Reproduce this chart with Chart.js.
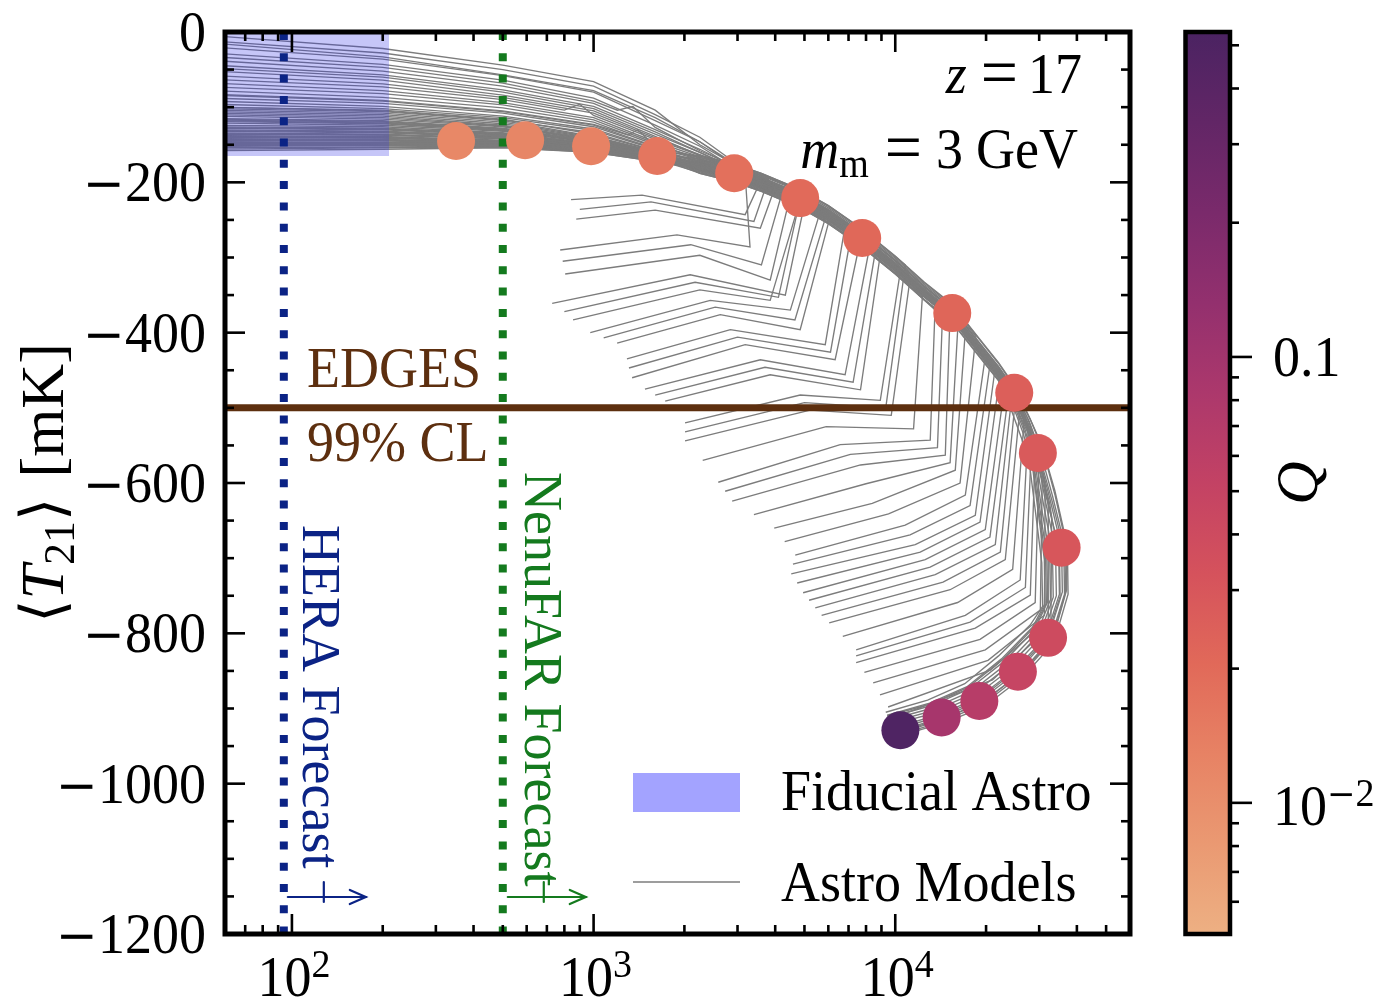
<!DOCTYPE html>
<html>
<head>
<meta charset="utf-8">
<title>Global 21-cm signal vs astro models</title>
<script src="https://cdn.jsdelivr.net/npm/chart.js@4.4.1/dist/chart.umd.min.js"></script>
<style>
  html, body { margin: 0; padding: 0; background: #fff; }
  #wrap { width: 1380px; height: 999px; position: relative; }
</style>
</head>
<body>
<div id="wrap"><canvas id="t21Chart"></canvas></div>
<script>
// ---------------- data ----------------

// fiducial model: Q of each point and its position
const qValues = [0.0115, 0.012, 0.013, 0.016, 0.018, 0.02, 0.021, 0.022, 0.025, 0.028, 0.03, 0.04, 0.048, 0.067, 0.092, 0.49];
const circleX = [350, 593, 981, 1625, 2925, 4840, 7770, 15450, 24800, 29700, 35600, 32100, 25500, 19000, 14250, 10400];
const circleY = [-145, -144, -152, -165, -188, -221, -274, -374, -480, -560, -686, -806, -851, -890, -912, -929];

// scanned astro models, [x, T21] pairs in the order of increasing Q
const astroModels = [
  [[55,-12],[200,-28],[500,-50],[1000,-72],[1600,-110],[2250,-140],[2900,-172],[3600,-196],[3180,-243],[1448,-217],[842,-223]],
  [[55,-104],[200,-108],[500,-120],[1000,-140],[1600,-160],[2250,-172],[2900,-184],[4000,-206],[3570,-261],[1600,-237],[876,-249]],
  [[55,-28],[200,-43],[500,-64],[1000,-88],[1600,-124],[2250,-152],[3180,-190],[3300,-286],[1890,-270],[775,-290]],
  [[55,-130],[200,-132],[500,-138],[1000,-150],[1600,-165],[2250,-177],[2900,-189],[3600,-202],[4490,-217],[3850,-330],[2250,-297],[805,-322]],
  [[55,-48],[200,-60],[500,-80],[1000,-102],[1600,-136],[2250,-160],[2900,-180],[3600,-198],[5030,-224],[4320,-350],[2090,-323],[729,-361]],
  [[55,-115],[200,-118],[500,-128],[1000,-145],[1600,-162],[2250,-175],[2900,-186],[3600,-201],[4840,-223],[3850,-357],[2250,-343],[855,-383]],
  [[55,-140],[200,-141],[500,-145],[1000,-154],[1600,-168],[2250,-179],[2900,-190],[3600,-203],[4800,-224],[5640,-239],[4490,-370],[2435,-357],[975,-400]],
  [[55,-68],[200,-78],[500,-94],[1000,-114],[1600,-146],[2250,-166],[2900,-182],[3600,-197],[4800,-218],[6090,-245],[4840,-396],[2630,-376],[1197,-414]],
  [[55,-124],[200,-126],[500,-134],[1000,-148],[1600,-164],[2250,-176],[2900,-188],[3600,-201],[4800,-222],[6820,-258],[5860,-416],[2840,-396],[1290,-435]],
  [[55,-148],[200,-148],[500,-149],[1000,-157],[1600,-170],[2250,-180],[2900,-191],[3600,-204],[4800,-226],[6000,-247],[7670,-276],[6320,-436],[3180,-416],[1342,-460]],
  [[55,-88],[200,-95],[500,-108],[1000,-126],[1600,-153],[2250,-170],[2900,-184],[3600,-198],[4800,-219],[6000,-241],[8260,-282],[6820,-456],[3570,-436],[1480,-475]],
  [[55,-134],[200,-136],[500,-141],[1000,-152],[1600,-166],[2250,-178],[2900,-189],[3600,-202],[4800,-223],[6000,-245],[8920,-296],[7670,-476],[3850,-456],[1727,-491]],
  [[55,-152],[200,-151],[500,-151],[1000,-158],[1600,-171],[2250,-181],[2900,-192],[3600,-205],[4800,-227],[6000,-249],[7700,-278],[10400,-318],[8920,-490],[4840,-483],[2010,-520]],
  [[55,-108],[200,-112],[500,-124],[1000,-142],[1600,-161],[2250,-174],[2900,-186],[3600,-200],[4800,-221],[6000,-243],[7700,-273],[11200,-328],[9700,-510],[5220,-503],[2010,-544]],
  [[55,-144],[200,-145],[500,-147],[1000,-156],[1600,-169],[2250,-179],[2900,-190],[3600,-203],[4800,-225],[6000,-247],[7700,-277],[10000,-313],[13570,-360],[13060,-543],[6570,-549],[2590,-599]],
  [[55,-20],[200,-36],[500,-58],[1000,-80],[1600,-118],[2250,-146],[2900,-174],[3600,-194],[4800,-218],[6000,-240],[7700,-271],[10000,-308],[15200,-372],[14650,-563],[7670,-576],[2880,-624]],
  [[55,-126],[200,-128],[500,-135],[1000,-149],[1600,-164],[2250,-176],[2900,-188],[3600,-201],[4800,-222],[6000,-244],[7700,-274],[10000,-311],[12500,-346],[17070,-398],[15810,-583],[8390,-627],[3970,-660]],
  [[55,-156],[200,-154],[500,-153],[1000,-160],[1600,-172],[2250,-182],[2900,-193],[3600,-206],[4800,-228],[6000,-250],[7700,-280],[10000,-316],[12500,-350],[15400,-380],[19880,-432],[17070,-616],[10790,-656],[4660,-696]],
  [[55,-38],[200,-52],[500,-72],[1000,-95],[1600,-130],[2250,-156],[2900,-178],[3600,-196],[4800,-219],[6000,-241],[7700,-271],[10000,-308],[12500,-343],[15400,-372],[21460,-446],[18420,-643],[11650,-682],[4520,-721]],
  [[55,-136],[200,-137],[500,-142],[1000,-153],[1600,-167],[2250,-178],[2900,-189],[3600,-202],[4800,-223],[6000,-245],[7700,-275],[10000,-312],[12500,-347],[15400,-376],[19000,-422],[23160,-465],[19880,-662],[12570,-702],[4950,-746]],
  [[55,-118],[200,-121],[500,-130],[1000,-146],[1600,-163],[2250,-175],[2900,-187],[3600,-200],[4800,-221],[6000,-243],[7700,-273],[10000,-310],[12500,-345],[15400,-374],[19000,-420],[24450,-478],[21460,-682],[13570,-722],[5430,-766]],
  [[55,-150],[200,-150],[500,-150],[1000,-158],[1600,-170],[2250,-181],[2900,-192],[3600,-205],[4800,-226],[6000,-249],[7700,-279],[10000,-315],[12500,-349],[15400,-378],[19000,-424],[22000,-456],[25950,-497],[23160,-702],[15200,-742],[6040,-786]],
  [[55,-58],[200,-69],[500,-87],[1000,-108],[1600,-141],[2250,-163],[2900,-181],[3600,-197],[4800,-219],[6000,-241],[7700,-271],[10000,-308],[12500,-343],[15400,-372],[19000,-418],[22000,-450],[27630,-523],[25950,-729],[17070,-776],[7420,-822]],
  [[55,-128],[200,-130],[500,-137],[1000,-150],[1600,-165],[2250,-177],[2900,-188],[3600,-201],[4800,-222],[6000,-244],[7700,-274],[10000,-311],[12500,-346],[15400,-375],[19000,-421],[22000,-453],[24800,-483],[29130,-553],[28030,-749],[18420,-793],[7420,-839]],
  [[55,-142],[200,-143],[500,-146],[1000,-155],[1600,-168],[2250,-179],[2900,-190],[3600,-203],[4800,-224],[6000,-246],[7700,-276],[10000,-313],[12500,-348],[15400,-377],[19000,-423],[22000,-455],[24800,-485],[27500,-525],[30700,-596],[30260,-769],[19880,-822],[8450,-866]],
  [[55,-78],[200,-87],[500,-101],[1000,-120],[1600,-150],[2250,-168],[2900,-183],[3600,-198],[4800,-220],[6000,-242],[7700,-272],[10000,-309],[12500,-344],[15400,-373],[19000,-419],[22000,-451],[24800,-481],[27500,-521],[29700,-560],[32150,-625],[32150,-782],[20660,-849],[9470,-898]],
  [[55,-15],[200,-33],[500,-57],[1000,-78],[1600,-114],[2250,-146],[2900,-176],[3800,-196],[3400,-252],[1550,-226],[900,-236]],
  [[55,-102],[200,-106],[500,-118],[1000,-139],[1600,-159],[2250,-182],[2900,-193],[3600,-206],[4200,-216],[3600,-310],[2100,-283],[790,-305]],
  [[55,-33],[200,-47],[500,-68],[1000,-92],[1200,-104],[1350,-99],[1600,-127],[2250,-158],[2900,-177],[3600,-190],[4900,-212],[4100,-353],[2170,-333],[800,-372]],
  [[55,-110],[200,-114],[500,-125],[1000,-143],[1600,-161],[2250,-185],[2900,-196],[3600,-209],[4800,-230],[5850,-249],[4650,-383],[2530,-366],[1080,-407]],
  [[55,-52],[200,-64],[500,-84],[1000,-105],[1600,-139],[2250,-164],[2900,-183],[3600,-196],[4800,-217],[6000,-239],[7200,-261],[6100,-426],[3000,-406],[1310,-447]],
  [[55,-119],[200,-122],[500,-131],[1000,-146],[1600,-163],[2250,-179],[2900,-190],[3600,-203],[4800,-224],[6000,-246],[7700,-276],[8600,-291],[7250,-466],[3700,-446],[1600,-483]],
  [[55,-63],[200,-73],[500,-90],[800,-104],[900,-96],[1000,-111],[1600,-143],[2250,-164],[2900,-175],[3600,-188],[4800,-209],[6000,-231],[7700,-261],[10800,-310],[9300,-500],[5000,-493],[2010,-532]],
  [[55,-127],[200,-129],[500,-136],[1000,-149],[1600,-165],[2250,-186],[2900,-197],[3600,-210],[4800,-231],[6000,-253],[7700,-283],[10000,-320],[12300,-352],[11500,-528],[5900,-525],[2300,-570]],
  [[55,-73],[200,-82],[500,-97],[1000,-117],[1600,-148],[2250,-170],[2900,-181],[3600,-194],[4800,-215],[6000,-237],[7700,-267],[10000,-304],[12500,-339],[14400,-359],[13800,-553],[7100,-562],[2730,-611]],
  [[55,-131],[200,-133],[500,-139],[1000,-151],[1600,-166],[2250,-188],[2900,-199],[3600,-212],[4800,-233],[6000,-255],[7700,-285],[10000,-322],[12500,-357],[16100,-397],[15200,-573],[8000,-601],[3400,-642]],
  [[55,-83],[200,-91],[500,-105],[1000,-123],[1300,-137],[1400,-130],[1600,-152],[2250,-167],[2900,-178],[3600,-191],[4800,-212],[6000,-234],[7700,-264],[10000,-301],[12500,-336],[15400,-365],[18500,-405],[16400,-600],[9500,-641],[4300,-678]],
  [[55,-135],[200,-137],[500,-142],[1000,-153],[1600,-167],[2250,-181],[2900,-192],[3600,-205],[4800,-226],[6000,-248],[7700,-278],[10000,-315],[12500,-350],[15400,-379],[20600,-443],[17700,-630],[11200,-669],[4580,-708]],
  [[55,-92],[200,-99],[500,-112],[1000,-129],[1600,-155],[2250,-174],[2900,-185],[3600,-198],[4800,-219],[6000,-241],[7700,-271],[10000,-308],[12500,-343],[15400,-372],[19000,-418],[22300,-453],[19100,-652],[12100,-692],[4730,-733]],
  [[55,-139],[200,-140],[500,-145],[1000,-154],[1600,-168],[2250,-184],[2900,-195],[3600,-208],[4800,-229],[6000,-251],[7700,-281],[10000,-318],[12500,-353],[15400,-382],[19000,-428],[23800,-478],[20600,-672],[13050,-712],[5180,-756]],
  [[55,-100],[200,-105],[500,-117],[1000,-134],[1600,-158],[2250,-165],[2900,-176],[3600,-189],[4800,-210],[6000,-232],[7700,-262],[10000,-299],[12500,-334],[15400,-363],[19000,-409],[22000,-441],[25200,-476],[22300,-692],[14400,-732],[5700,-776]],
  [[55,-143],[200,-144],[500,-146],[1000,-155],[1600,-169],[2250,-178],[2900,-189],[3600,-202],[4800,-223],[6000,-245],[7700,-275],[10000,-312],[12500,-347],[15400,-376],[19000,-422],[22000,-454],[24800,-484],[26800,-512],[24500,-715],[16100,-759],[6700,-804]],
  [[55,-106],[200,-110],[500,-122],[1000,-141],[1600,-160],[2250,-171],[2900,-182],[3600,-195],[4800,-216],[6000,-238],[7700,-268],[10000,-305],[12500,-340],[15400,-369],[19000,-415],[22000,-447],[24800,-477],[28400,-533],[27000,-739],[17700,-785],[7420,-830]],
  [[55,-147],[200,-147],[500,-148],[1000,-156],[1600,-169],[2250,-187],[2900,-198],[3600,-211],[4800,-232],[6000,-254],[7700,-284],[10000,-321],[12500,-356],[15400,-385],[19000,-431],[22000,-463],[24800,-493],[27500,-533],[29900,-586],[29100,-759],[19100,-808],[7900,-852]],
  [[55,-116],[200,-119],[500,-129],[1000,-145],[1600,-162],[2250,-169],[2900,-180],[3600,-193],[4800,-214],[6000,-236],[7700,-266],[10000,-303],[12500,-338],[15400,-367],[19000,-413],[22000,-445],[24800,-475],[27500,-515],[29700,-553],[31400,-603],[31200,-776],[20300,-836],[8900,-882]],
  [[55,-151],[200,-150],[500,-150],[1000,-157],[1600,-170],[2250,-183],[2900,-194],[3600,-207],[4800,-228],[6000,-250],[7700,-280],[10000,-317],[12500,-352],[15400,-381],[19000,-427],[22000,-459],[24800,-489],[27500,-529],[29700,-567],[32500,-627],[33000,-645],[32800,-790],[21000,-862],[9900,-912]],
  [[55,-96],[200,-102],[500,-114],[1000,-131],[1600,-156],[2250,-172],[2900,-185],[3600,-199],[4800,-220],[6000,-242],[7700,-272],[10000,-309],[12500,-344],[15400,-373],[19000,-419],[22000,-451],[24800,-481],[27500,-521],[29700,-560],[32500,-620],[35600,-686],[35800,-745],[32100,-806],[25500,-851],[19000,-890],[14250,-912],[10400,-929]],
  [[55,-112],[200,-116],[500,-126],[1000,-144],[1600,-162],[2250,-175],[2900,-186],[3600,-200],[4800,-221],[6000,-243],[7700,-273],[10000,-310],[12500,-345],[15400,-374],[19000,-420],[22000,-452],[24800,-482],[27500,-522],[29700,-562],[32000,-622],[34800,-688],[35000,-748],[31500,-805],[25000,-848],[18800,-886],[14000,-908],[10000,-925]],
  [[55,-121],[200,-124],[500,-132],[1000,-147],[1600,-163],[2250,-176],[2900,-187],[3600,-201],[4800,-222],[6000,-244],[7700,-274],[10000,-311],[12500,-346],[15400,-375],[19000,-421],[22000,-453],[24800,-483],[27500,-523],[29500,-565],[31500,-625],[34000,-690],[34200,-750],[30800,-803],[24500,-845],[18500,-883],[13800,-905],[9800,-921]],
  [[55,-132],[200,-134],[500,-140],[1000,-151],[1600,-166],[2250,-177],[2900,-189],[3600,-202],[4800,-223],[6000,-245],[7700,-275],[10000,-312],[12500,-347],[15400,-376],[19000,-422],[22000,-454],[24800,-484],[27500,-524],[30000,-563],[33000,-622],[36200,-687],[36400,-748],[32700,-808],[26000,-853],[19300,-892],[14500,-914],[10600,-931]],
  [[55,-138],[200,-139],[500,-144],[1000,-153],[1600,-167],[2250,-178],[2900,-190],[3600,-203],[4800,-224],[6000,-246],[7700,-276],[10000,-313],[12500,-348],[15400,-377],[19000,-423],[22000,-455],[24800,-485],[27500,-525],[29200,-568],[31000,-628],[33200,-692],[33400,-752],[30200,-800],[24000,-842],[18200,-880],[13600,-902],[9700,-918]],
  [[55,-146],[200,-147],[500,-148],[1000,-156],[1600,-169],[2250,-179],[2900,-191],[3600,-204],[4800,-225],[6000,-247],[7700,-277],[10000,-314],[12500,-349],[15400,-378],[19000,-424],[22000,-456],[24800,-486],[27500,-526],[29000,-570],[30500,-632],[32500,-695],[32700,-755],[29600,-798],[23500,-840],[17900,-877],[13400,-899],[9600,-915]],
  [[55,-154],[200,-153],[500,-152],[1000,-159],[1600,-171],[2250,-181],[2900,-192],[3600,-205],[4800,-227],[6000,-249],[7700,-279],[10000,-316],[12500,-351],[15400,-380],[19000,-426],[22000,-458],[24600,-490],[27000,-530],[28800,-574],[30200,-636],[31800,-698],[32000,-758],[29000,-795],[23000,-837],[17600,-874],[13200,-896],[9500,-912]],
  [[55,-158],[200,-156],[500,-154],[1000,-160],[1600,-172],[2250,-182],[2900,-193],[3600,-206],[4800,-228],[6000,-250],[7700,-280],[10000,-317],[12500,-352],[15400,-381],[19000,-427],[22000,-459],[24400,-494],[26600,-535],[28500,-578],[29800,-640],[31200,-702],[31400,-760],[28500,-792],[22500,-834],[17300,-871],[13000,-893],[9400,-909]],
  [[55,-5],[200,-22],[500,-44],[1000,-66],[1600,-104],[2250,-150],[2900,-175],[3600,-188],[4800,-209],[6000,-231],[7700,-261],[10000,-298],[12500,-333],[15400,-362],[19000,-408],[22000,-440],[24800,-470],[27500,-508],[30500,-548],[33800,-610],[37200,-684],[37400,-748],[33600,-812],[26500,-858],[19800,-897],[14800,-918],[10800,-934]],
  [[55,-100],[200,-104],[500,-116],[1000,-136],[1600,-158],[2250,-188],[2900,-199],[3600,-212],[4800,-233],[6000,-255],[7700,-285],[10000,-322],[12500,-357],[15400,-386],[19000,-432],[22000,-464],[24000,-498],[26200,-540],[28000,-582],[29300,-645],[30600,-706],[30800,-764],[28000,-789],[22000,-830],[17000,-867],[12800,-889],[9300,-905]],
  [[55,-44],[200,-57],[500,-77],[1000,-99],[1600,-133],[2250,-160],[2900,-181],[3600,-194],[4800,-215],[6000,-237],[7700,-267],[10000,-304],[12500,-339],[15400,-368],[19000,-414],[22000,-446],[24800,-476],[28000,-515],[30800,-555],[33900,-617],[36900,-683],[37000,-742],[33200,-809],[26200,-855],[19600,-894],[14600,-916],[10700,-933]],
  [[55,-117],[200,-120],[500,-130],[1000,-146],[1600,-163],[2250,-180],[2900,-191],[3600,-204],[4800,-225],[6000,-247],[7700,-277],[10000,-314],[12500,-349],[15400,-378],[19000,-424],[22000,-456],[24800,-486],[27300,-527],[29400,-566],[32000,-626],[35000,-690],[35200,-751],[31700,-807],[25200,-849],[18900,-888],[14100,-910],[10200,-927]],
  [[55,-140],[200,-141],[500,-146],[1000,-155],[1600,-168],[2250,-173],[2900,-184],[3600,-197],[4800,-218],[6000,-240],[7700,-270],[10000,-307],[12500,-342],[15400,-371],[19000,-417],[22000,-449],[24800,-479],[27800,-518],[30200,-557],[33200,-617],[36500,-684],[36700,-745],[33000,-810],[26000,-853],[19500,-892],[14400,-913],[10500,-930]],
  [[55,-84],[200,-92],[500,-106],[1000,-124],[1600,-152],[2250,-184],[2900,-195],[3600,-208],[4800,-229],[6000,-251],[7700,-281],[10000,-318],[12500,-353],[15400,-382],[19000,-428],[22000,-460],[24500,-492],[26900,-533],[28600,-577],[30000,-640],[31500,-700],[31700,-760],[28700,-793],[22700,-835],[17400,-872],[13100,-894],[9400,-910]]
];

// fiducial astro box
const fiducialX = [60, 210];
const fiducialTop = 0;
const fiducialBottom = -165;

// forecast sensitivities and the EDGES bound
const heraX = 94;
const nenufarX = 500;
const edgesLimit = -500;

// axes
const xRange = [60, 60000];
const yRange = [-1200, 0];
const yTicks = [0, -200, -400, -600, -800, -1000, -1200];
const yMinorTicks = [-50, -100, -150, -250, -300, -350, -450, -500, -550, -650, -700, -750, -850, -900, -950, -1050, -1100, -1150];
const xMajorTicks = [100, 1000, 10000];
const xMinorTicks = [70, 80, 90, 200, 300, 400, 500, 600, 700, 800, 900, 2000, 3000, 4000, 5000, 6000, 7000, 8000, 9000, 20000, 30000, 40000, 50000];
const qRange = [0.00508, 0.5355];
const qMajorTicks = [0.01, 0.1];
const qMinorTicks = [0.006, 0.007, 0.008, 0.009, 0.02, 0.03, 0.04, 0.05, 0.06, 0.07, 0.08, 0.09, 0.2, 0.3, 0.4, 0.5];

// ---------------- styles ----------------
const SERIF = '"Liberation Serif", "DejaVu Serif", serif';
const SYM = '"DejaVu Serif", "DejaVu Sans", serif';
const rm = s => `${s}px ${SERIF}`;
const it = s => `italic ${s}px ${SERIF}`;
const sym = s => `${s}px ${SYM}`;

const GRAY = '#7c7c7c';
const HERA_BLUE = '#0b2385';
const NENU_GREEN = '#147a1e';
const EDGES_BROWN = '#5d2f0f';
const FIDUCIAL_FILL = 'rgba(50, 50, 230, 0.28)';
const FIDUCIAL_PATCH = '#a3a3ff';

// "flare" colormap, low Q -> high Q
const flareStops = ['#edb083', '#ea9972', '#e78264', '#e16959', '#d5525c', '#c34264', '#ac386c', '#93306e', '#7a2a6b', '#622666', '#4b2362'];

function hexToRgb(h) {
    const n = parseInt(h.slice(1), 16);
    return [(n >> 16) & 255, (n >> 8) & 255, n & 255];
}

function flare(t) {
    t = Math.min(1, Math.max(0, t));
    const pos = t * (flareStops.length - 1);
    const i = Math.min(Math.floor(pos), flareStops.length - 2);
    const f = pos - i;
    const a = hexToRgb(flareStops[i]);
    const b = hexToRgb(flareStops[i + 1]);
    const c = a.map((v, k) => Math.round(v + (b[k] - v) * f));
    return `rgb(${c[0]}, ${c[1]}, ${c[2]})`;
}

function qColor(q) {
    const lo = Math.log10(qRange[0]);
    const hi = Math.log10(qRange[1]);
    return flare((Math.log10(q) - lo) / (hi - lo));
}

// text made of runs: {t, f, dy} or {gap}
const T = (t, f, dy = 0) => ({ t, f, dy });
const G = gap => ({ gap });

function drawRuns(ctx, parts, x, y, opts = {}) {
    const { align = 'left', angle = 0, color = '#000', sy = 1.05 } = opts;
    ctx.save();
    ctx.translate(x, y);
    ctx.rotate(angle);
    ctx.scale(1, sy);
    ctx.fillStyle = color;
    ctx.textAlign = 'left';
    ctx.textBaseline = 'alphabetic';
    let total = 0;
    parts.forEach(p => {
        if (p.gap != null) {
            p.w = p.gap;
        } else {
            ctx.font = p.f;
            p.w = ctx.measureText(p.t).width;
        }
        total += p.w;
    });
    let cx = align === 'right' ? -total : align === 'center' ? -total / 2 : 0;
    parts.forEach(p => {
        if (p.t) {
            ctx.font = p.f;
            ctx.fillText(p.t, cx, p.dy);
        }
        cx += p.w;
    });
    ctx.restore();
}

function numberRuns(v) {
    return v < 0 ? [T('\u2212', sym(50)), T(String(-v), rm(54))] : [T(String(v), rm(54))];
}

function segment(ctx, x0, y0, x1, y1) {
    ctx.beginPath();
    ctx.moveTo(x0, y0);
    ctx.lineTo(x1, y1);
    ctx.stroke();
}

function forecastArrow(ctx, x0, y, color) {
    const len = 78;
    ctx.save();
    ctx.strokeStyle = color;
    ctx.lineWidth = 2.2;
    ctx.lineCap = 'round';
    segment(ctx, x0, y, x0 + len, y);
    ctx.beginPath();
    ctx.moveTo(x0 + len - 16, y - 7);
    ctx.lineTo(x0 + len, y);
    ctx.lineTo(x0 + len - 16, y + 7);
    ctx.stroke();
    segment(ctx, x0 + 36, y - 15, x0 + 36, y + 5);
    ctx.restore();
}

// ---------------- decorations: frame, ticks, labels, colorbar, legend ----------------
const decorations = {
    id: 'decorations',
    afterDraw(chart) {
        const { ctx, chartArea: a, scales } = chart;
        const xs = scales.x, ys = scales.y, qs = scales.q;

        ctx.save();
        ctx.strokeStyle = '#000';
        ctx.lineCap = 'butt';

        // inward ticks on all four sides
        ctx.lineWidth = 2.6;
        const xTick = (v, len) => {
            const px = xs.getPixelForValue(v);
            segment(ctx, px, a.bottom, px, a.bottom - len);
            segment(ctx, px, a.top, px, a.top + len);
        };
        const yTick = (v, len) => {
            const py = ys.getPixelForValue(v);
            segment(ctx, a.left, py, a.left + len, py);
            segment(ctx, a.right, py, a.right - len, py);
        };
        xMajorTicks.forEach(v => xTick(v, 20));
        xMinorTicks.forEach(v => xTick(v, 9));
        yTicks.forEach(v => yTick(v, 20));
        yMinorTicks.forEach(v => yTick(v, 9));

        // frame
        ctx.lineWidth = 5;
        ctx.strokeRect(a.left, a.top, a.right - a.left, a.bottom - a.top);

        // tick labels
        yTicks.forEach(v => drawRuns(ctx, numberRuns(v), 206, ys.getPixelForValue(v) + 19, { align: 'right' }));
        xMajorTicks.forEach(v => {
            const e = Math.round(Math.log10(v));
            drawRuns(ctx, [T('10', rm(54)), T(String(e), rm(38), -18)], xs.getPixelForValue(v) + 2, 996, { align: 'center' });
        });

        // axis title
        drawRuns(ctx, [T('\u27e8', sym(60)), T('T', it(62)), T('21', rm(44), 11), T('\u27e9', sym(60)), G(20), T('[mK]', rm(62))],
            63, (a.top + a.bottom) / 2, { align: 'center', angle: -Math.PI / 2, sy: 1 });

        // colorbar
        const cbL = 1185.5, cbR = 1230;
        const cbTop = qs.getPixelForValue(qRange[1]);
        const cbBot = qs.getPixelForValue(qRange[0]);
        const grad = ctx.createLinearGradient(0, cbBot, 0, cbTop);
        flareStops.forEach((c, i) => grad.addColorStop(i / (flareStops.length - 1), c));
        ctx.fillStyle = grad;
        ctx.fillRect(cbL, cbTop, cbR - cbL, cbBot - cbTop);
        ctx.lineWidth = 2.6;
        qMajorTicks.forEach(v => { const py = qs.getPixelForValue(v); segment(ctx, cbR, py, cbR + 22, py); });
        qMinorTicks.forEach(v => { const py = qs.getPixelForValue(v); segment(ctx, cbR, py, cbR + 9, py); });
        ctx.lineWidth = 4.5;
        ctx.strokeRect(cbL, cbTop, cbR - cbL, cbBot - cbTop);

        qMajorTicks.forEach(v => {
            const py = qs.getPixelForValue(v);
            if (v >= 0.1) {
                drawRuns(ctx, [T(String(v), rm(54))], 1273, py + 19);
            } else {
                const e = Math.round(Math.log10(v));
                drawRuns(ctx, [T('10', rm(54)), T('\u2212', sym(34), -18), T(String(-e), rm(38), -18)], 1273, py + 22);
            }
        });
        drawRuns(ctx, [T('Q', it(60))], 1317, (cbTop + cbBot) / 2, { align: 'center', angle: -Math.PI / 2, sy: 1 });

        // annotations
        drawRuns(ctx, [T('z', it(54)), G(14), T('=', rm(66), 3), G(10), T('17', rm(54))], 1082, 93, { align: 'right' });
        drawRuns(ctx, [T('m', it(54)), T('m', rm(38), 9), G(16), T('=', rm(66), 3), G(14), T('3', rm(54)), G(13), T('GeV', rm(54))],
            1078, 168, { align: 'right' });
        drawRuns(ctx, [T('EDGES', rm(54))], 307, 387, { color: EDGES_BROWN });
        drawRuns(ctx, [T('99% CL', rm(54))], 307, 461, { color: EDGES_BROWN });

        drawRuns(ctx, [T('HERA Forecast', rm(54))], 303, 525, { angle: Math.PI / 2, color: HERA_BLUE, sy: 1 });
        drawRuns(ctx, [T('NenuFAR Forecast', rm(54))], 525, 472, { angle: Math.PI / 2, color: NENU_GREEN, sy: 1 });
        forecastArrow(ctx, xs.getPixelForValue(heraX) + 4, 897, HERA_BLUE);
        forecastArrow(ctx, xs.getPixelForValue(nenufarX) + 5, 897, NENU_GREEN);

        // legend
        ctx.fillStyle = FIDUCIAL_PATCH;
        ctx.fillRect(633, 773, 107, 39);
        ctx.strokeStyle = GRAY;
        ctx.lineWidth = 1.5;
        segment(ctx, 633, 882, 740, 882);
        drawRuns(ctx, [T('Fiducial Astro', rm(54))], 781, 810);
        drawRuns(ctx, [T('Astro Models', rm(54))], 781, 901);

        ctx.restore();
    }
};

// ---------------- chart ----------------
const toPoints = pts => pts.map(([x, y]) => ({ x, y }));

const datasets = [
    ...astroModels.map(model => ({
        data: toPoints(model),
        borderColor: GRAY,
        borderWidth: 1.35,
        pointRadius: 0,
        tension: 0,
        fill: false,
        clip: 0,
        order: 10
    })),
    {
        data: fiducialX.map(x => ({ x, y: fiducialTop })),
        borderWidth: 0,
        borderColor: 'transparent',
        backgroundColor: FIDUCIAL_FILL,
        pointRadius: 0,
        fill: { value: fiducialBottom },
        clip: 0,
        order: 8
    },
    {
        data: [{ x: heraX, y: yRange[1] }, { x: heraX, y: yRange[0] }],
        borderColor: HERA_BLUE,
        borderWidth: 8,
        borderDash: [8, 13.3],
        borderCapStyle: 'butt',
        pointRadius: 0,
        clip: 0,
        order: 6
    },
    {
        data: [{ x: nenufarX, y: yRange[1] }, { x: nenufarX, y: yRange[0] }],
        borderColor: NENU_GREEN,
        borderWidth: 8,
        borderDash: [8, 13.3],
        borderCapStyle: 'butt',
        pointRadius: 0,
        clip: 0,
        order: 6
    },
    {
        data: xRange.map(x => ({ x, y: edgesLimit })),
        borderColor: EDGES_BROWN,
        borderWidth: 7,
        pointRadius: 0,
        clip: 0,
        order: 5
    },
    {
        data: circleX.map((x, i) => ({ x, y: circleY[i] })),
        showLine: false,
        pointRadius: 19,
        pointBorderWidth: 0,
        pointBackgroundColor: qValues.map(qColor),
        order: 1
    }
];

new Chart(document.getElementById('t21Chart'), {
    type: 'line',
    data: { datasets },
    options: {
        responsive: true,
        maintainAspectRatio: false,
        animation: false,
        events: [],
        layout: { padding: { left: 225, right: 250, top: 32, bottom: 65 } },
        plugins: {
            legend: { display: false },
            tooltip: { enabled: false }
        },
        scales: {
            x: { type: 'logarithmic', min: xRange[0], max: xRange[1], display: false },
            y: { type: 'linear', min: yRange[0], max: yRange[1], display: false },
            q: { type: 'logarithmic', axis: 'y', position: 'right', min: qRange[0], max: qRange[1], display: false }
        }
    },
    plugins: [decorations]
});
</script>
</body>
</html>
